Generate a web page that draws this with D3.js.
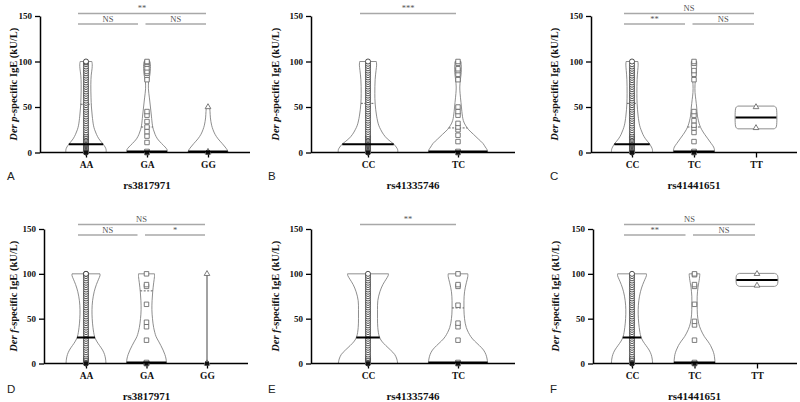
<!DOCTYPE html>
<html><head><meta charset="utf-8">
<script src="https://cdn.jsdelivr.net/npm/d3@7"></script>
<style>body{margin:0;background:#fff}</style>
</head><body><svg id="c" width="800" height="402"></svg>
<script>
// ---------- DATA ----------
const snpA = "rs3817971", snpB = "rs41335746", snpC = "rs41441651";
const catsA = ["AA","GA","GG"];
const catsB = ["CC","TC"];
const catsC = ["CC","TC","TT"];
const yTicks = [0,50,100,150];

// Der p specific IgE (kU/L) — individual points
const derpAA = [0,0,0.5,1,1.5,2,2.5,3,4,5,6,7,8,9,10,11,12,13.5,15,16.5,18,20,22,24.5,27,29.5,32,34.5,37,39.5,42,44.5,47,49.5,52,54.5,57,59.5,62,64.5,67,69.5,72,74.5,77,79.5,82,84.5,87,89.5,92,94.5,97,99,100];
const derpGA = [0,0,0.4,0.8,1.2,11,18,23,28,34,41,45,80,87,89,93,97,99,100];
const derpGG = [0,0.4,0.8,50];
const derpCC_b = [0,0,0.5,1,1.5,2,2.5,3,4,5,6,7,8,9,10,11,12,13.5,15,16.5,18,20,22.5,25,27.5,30,32.5,35,37.5,40,42.5,45,47.5,50,52.5,55,57.5,60,62.5,65,67.5,70,72.5,75,77.5,80,82.5,85,87.5,90,92.5,95,97.5,100];
const derpTC_b = [0,0,0.4,0.8,1.2,12,19,25,28,32,41,45,50,80,86,90,92,98,100];
const derpCC_c = [0,0,0.5,1,1.5,2,2.5,3,4,5,6,7,8,9,10,11,12,13.5,15,16.5,18,20,22,24.5,27,29.5,32,34.5,37,39.5,42,44.5,47,49.5,52,54.5,57,59.5,62,64.5,67,69.5,72,74.5,77,79.5,82,84.5,87,89.5,92,94.5,97,100];
const derpTC_c = [0,0,0.4,0.8,1.2,12,22,27,30,35,41,45,80,86,90,98,100];
const derpTT_c = [27,50];

// Der f specific IgE (kU/L) — individual points
const derfAA = [0,0,0.5,1,1.5,2,3,4,5,6,8,10,12.5,15,17.5,20,22.5,25,27.5,30,32.5,35,37.5,40,42.5,45,47.5,50,52.5,55,57.5,60,62.5,65,67.5,70,72.5,75,77.5,80,82.5,85,87.5,90,92.5,95,97.5,100,100];
const derfGA = [0,0,0.4,0.8,1.2,26,41,46,66,86,88,100];
const derfGG = [0,0.4,100];
const derfCC_e = [0,0,0.5,1,1.5,2,3,4,5,6,8,10,12.5,15,17.5,20,22.5,25,27.5,30,32.5,35,37.5,40,42.5,45,47.5,50,52.5,55,57.5,60,62.5,65,67.5,70,72.5,75,77.5,80,82.5,85,87.5,90,92.5,95,97.5,100];
const derfTC_e = [0,0,0.4,0.8,1.2,26,41,45,65,86,88,100];
const derfCC_f = [0,0,0.5,1,1.5,2,3,4,5,6,8,10,12.5,15,17.5,20,22.5,25,27.5,30,32.5,35,37.5,40,42.5,45,47.5,50,52.5,55,57.5,60,62.5,65,67.5,70,72.5,75,77.5,80,82.5,85,87.5,90,92.5,95,97.5,100];
const derfTC_f = [0,0,0.4,0.8,1.2,26,43,47,66,86,88,99,100];
const derfTT_f = [87,100];

// violin outlines: [value, relative half-width]
const violA_AA = [[0,1],[3,1],[6,0.95],[10,0.82],[15,0.64],[20,0.52],[25,0.43],[30,0.37],[40,0.31],[50,0.27],[60,0.25],[75,0.24],[85,0.26],[92,0.3],[97,0.31],[100,0.29]];
const violA_GA = [[0,1],[3,1],[6,0.9],[10,0.72],[15,0.52],[20,0.4],[25,0.32],[30,0.27],[40,0.22],[50,0.17],[60,0.12],[70,0.07],[78,0.08],[85,0.14],[92,0.17],[97,0.17],[100,0.15]];
const violA_GG = [[0,1],[3,0.95],[6,0.85],[10,0.7],[15,0.5],[20,0.35],[25,0.25],[30,0.18],[38,0.12],[45,0.1],[50,0.08]];
const violB_CC = [[0,1],[3,1],[6,0.95],[10,0.84],[15,0.65],[20,0.52],[25,0.43],[30,0.36],[40,0.29],[54,0.24],[65,0.23],[80,0.24],[90,0.27],[96,0.29],[100,0.28]];
const violB_TC = [[0,1],[3,0.98],[6,0.92],[10,0.84],[15,0.68],[20,0.52],[25,0.36],[30,0.25],[35,0.18],[45,0.13],[55,0.1],[65,0.07],[72,0.06],[80,0.08],[88,0.11],[95,0.11],[100,0.1]];
const violC_CC = [[0,1],[3,1],[6,0.95],[10,0.84],[15,0.66],[20,0.53],[25,0.44],[30,0.37],[40,0.3],[54,0.25],[65,0.24],[80,0.25],[90,0.28],[96,0.3],[100,0.29]];
const violC_TC = [[0,1],[3,1],[6,0.96],[10,0.84],[15,0.68],[20,0.52],[25,0.38],[30,0.28],[40,0.17],[50,0.13],[58,0.09],[66,0.05],[75,0.05],[85,0.09],[95,0.13],[100,0.13]];
const violC_TT = [[26,0.88],[27,0.96],[29,1],[48,1],[50,0.96],[51,0.88]];
const violD_AA = [[0,1],[5,0.98],[10,0.93],[15,0.83],[20,0.68],[25,0.53],[30,0.43],[40,0.35],[50,0.31],[60,0.3],[70,0.33],[80,0.41],[88,0.52],[94,0.63],[98,0.7],[100,0.7]];
const violD_GA = [[0,1],[5,0.98],[10,0.92],[15,0.83],[20,0.72],[25,0.6],[30,0.48],[40,0.36],[50,0.3],[60,0.27],[70,0.28],[80,0.31],[90,0.36],[97,0.4],[100,0.4]];
const violD_GG = [[0,0.01],[100,0.01]];
const violE_CC = [[0,1],[5,0.97],[10,0.9],[15,0.76],[20,0.6],[25,0.46],[30,0.38],[40,0.33],[50,0.32],[60,0.32],[70,0.33],[80,0.4],[88,0.5],[94,0.61],[98,0.68],[100,0.69]];
const violE_TC = [[0,1],[5,0.98],[10,0.94],[15,0.86],[20,0.72],[25,0.56],[30,0.43],[40,0.28],[50,0.22],[60,0.2],[70,0.2],[80,0.22],[90,0.28],[97,0.33],[100,0.33]];
const violF_CC = [[0,1],[5,0.98],[10,0.93],[15,0.83],[20,0.68],[25,0.53],[30,0.43],[40,0.35],[50,0.31],[60,0.3],[70,0.33],[80,0.41],[88,0.52],[94,0.63],[98,0.7],[100,0.7]];
const violF_TC = [[0,1],[5,0.98],[10,0.95],[15,0.88],[20,0.78],[25,0.64],[30,0.48],[38,0.3],[45,0.2],[55,0.14],[65,0.13],[75,0.13],[85,0.17],[95,0.24],[100,0.26]];
const violF_TT = [[86,0.85],[87,0.95],[89,1],[98,1],[99.5,0.95],[100.5,0.85]];

// medians and upper quartiles
const medA = [9,1,1],    q3A = [53,28,null];
const medB = [9,1],      q3B = [54,27];
const medC = [9,1,38.5], q3C = [54,28,null];
const medD = [29,1,null],q3D = [null,81,null];
const medE = [29,1],     q3E = [null,62];
const medF = [29,1,93],  q3F = [null,null,null];

// significance brackets [from, to, label, row]
const sigA = [[0,2,"**",0],[0,1,"NS",1],[1,2,"NS",1]];
const sigB = [[0,1,"***",0]];
const sigC = [[0,2,"NS",0],[0,1,"**",1],[1,2,"NS",1]];
const sigD = [[0,2,"NS",0],[0,1,"NS",1],[1,2,"*",1]];
const sigE = [[0,1,"**",0]];
const sigF = [[0,2,"NS",0],[0,1,"**",1],[1,2,"NS",1]];

// ---------- LAYOUT ----------
const rowTop = {y0:152.5, y150:16, bracketY:[13.5,24], letterY:180, titleY:189};
const rowBot = {y0:363.5, y150:229, bracketY:[224.5,235], letterY:393, titleY:400};

const panels = [
 {L:"A", snp:snpA, cats:catsA, al:"p", pts:[derpAA,derpGA,derpGG], viol:[violA_AA,violA_GA,violA_GG], med:medA, q3:q3A, sig:sigA, row:rowTop, ax:40, ex:250, cr:[86,208], lx:15, lt:7},
 {L:"B", snp:snpB, cats:catsB, al:"p", pts:[derpCC_b,derpTC_b], viol:[violB_CC,violB_TC], med:medB, q3:q3B, sig:sigB, row:rowTop, ax:311, ex:515, cr:[368,458], lx:277, lt:268},
 {L:"C", snp:snpC, cats:catsC, al:"p", pts:[derpCC_c,derpTC_c,derpTT_c], viol:[violC_CC,violC_TC,violC_TT], med:medC, q3:q3C, sig:sigC, row:rowTop, ax:591, ex:797, cr:[632,756], lx:556, lt:550},
 {L:"D", snp:snpA, cats:catsA, al:"f", pts:[derfAA,derfGA,derfGG], viol:[violD_AA,violD_GA,violD_GG], med:medD, q3:q3D, sig:sigD, row:rowBot, ax:44, ex:248, cr:[86,207], lx:15, lt:7},
 {L:"E", snp:snpB, cats:catsB, al:"f", pts:[derfCC_e,derfTC_e], viol:[violE_CC,violE_TC], med:medE, q3:q3E, sig:sigE, row:rowBot, ax:311, ex:515, cr:[368,458], lx:277, lt:268},
 {L:"F", snp:snpC, cats:catsC, al:"f", pts:[derfCC_f,derfTC_f,derfTT_f], viol:[violF_CC,violF_TC,violF_TT], med:medF, q3:q3F, sig:sigF, row:rowBot, ax:593, ex:797, cr:[632,757], lx:557, lt:550}
];

const svg = d3.select("#c");
const serif = "'Liberation Serif','Times New Roman',serif";
const sans = "'Liberation Sans',Arial,sans-serif";

panels.forEach(p => {
  const g = svg.append("g");
  const R = p.row;
  const y = d3.scaleLinear().domain([0,150]).range([R.y0, R.y150]);
  const x = d3.scalePoint().domain(p.cats).range(p.cr);
  const step = (p.cr[1]-p.cr[0])/(p.cats.length-1);
  const hw = 0.33*step;

  // violins
  p.cats.forEach((c,i) => {
    const cx = x(c), prof = p.viol[i];
    const area = d3.area().curve(d3.curveCatmullRom)
      .y(d => y(d[0])).x0(d => cx - hw*d[1]).x1(d => cx + hw*d[1]);
    g.append("path").attr("d", area(prof))
      .attr("fill","#fff").attr("stroke","#7a7a7a").attr("stroke-width",0.85);
  });

  // y axis
  const ya = g.append("g").attr("transform",`translate(${p.ax},0)`)
    .call(d3.axisLeft(y).tickValues(yTicks).tickSize(5).tickSizeOuter(0).tickPadding(3));
  ya.select(".domain").attr("stroke","#000").attr("stroke-width",1.5);
  ya.selectAll(".tick line").attr("stroke","#000").attr("stroke-width",1.3);
  ya.selectAll("text").attr("font-family",serif).attr("font-weight","bold").attr("font-size",9).attr("fill","#111");

  // x axis
  const xa = g.append("g").attr("transform",`translate(0,${R.y0})`)
    .call(d3.axisBottom(x).tickSize(5).tickSizeOuter(0).tickPadding(4));
  xa.select(".domain").remove();
  xa.selectAll(".tick line").attr("stroke","#000").attr("stroke-width",1.3);
  xa.selectAll("text").attr("font-family",serif).attr("font-weight","bold").attr("font-size",9.5).attr("fill","#111");
  g.append("line").attr("x1",p.ax).attr("x2",p.ex).attr("y1",R.y0).attr("y2",R.y0)
    .attr("stroke","#000").attr("stroke-width",1.5);

  // quartile dashed lines
  p.cats.forEach((c,i) => {
    const v = p.q3[i]; if (v == null) return;
    const prof = p.viol[i];
    const wf = d3.scaleLinear().domain(prof.map(d=>d[0])).range(prof.map(d=>d[1])).clamp(true);
    g.append("line").attr("x1",x(c)-hw*wf(v)).attr("x2",x(c)+hw*wf(v))
      .attr("y1",y(v)).attr("y2",y(v)).attr("stroke","#555").attr("stroke-width",0.9)
      .attr("stroke-dasharray","2,1.5");
  });

  // points
  p.cats.forEach((c,i) => {
    const cx = x(c);
    const sel = g.append("g").selectAll("path").data(p.pts[i]).join("path")
      .attr("transform", d => `translate(${cx},${y(d)})`)
      .attr("fill","#fff").attr("stroke-width",0.85);
    if (i===0) sel.attr("d", d3.symbol(d3.symbolCircle, 20)()).attr("stroke","#333");
    else if (i===1) sel.attr("d", d3.symbol(d3.symbolSquare, 20)()).attr("stroke","#666");
    else sel.attr("d", d3.symbol(d3.symbolTriangle, 14)()).attr("stroke","#666");
    const zeros = p.pts[i].filter(v => v < 1.5);
    if (zeros.length) {
      g.append("path").attr("d", d3.symbol(d3.symbolSquare, 16)())
        .attr("transform",`translate(${cx},${y(0)})`).attr("fill","#111");
    }
  });

  // medians
  p.cats.forEach((c,i) => {
    const v = p.med[i]; if (v == null) return;
    const prof = p.viol[i];
    const wf = d3.scaleLinear().domain(prof.map(d=>d[0])).range(prof.map(d=>d[1])).clamp(true);
    g.append("line").attr("x1",x(c)-hw*wf(v)).attr("x2",x(c)+hw*wf(v))
      .attr("y1",y(v)).attr("y2",y(v)).attr("stroke","#000").attr("stroke-width",2);
  });

  // significance brackets
  const last = p.cats.length-1;
  p.sig.forEach(s => {
    const [a,b,lab,row] = s;
    const x1 = a===0 ? x(p.cats[a])-8 : x(p.cats[a])-1.5;
    const x2 = b===last ? x(p.cats[b])-2 : x(p.cats[b])-9;
    const ly = R.bracketY[row];
    g.append("line").attr("x1",x1).attr("x2",x2).attr("y1",ly).attr("y2",ly)
      .attr("stroke","#a8a8a8").attr("stroke-width",1.4);
    g.append("text").attr("x",(x1+x2)/2).attr("y",ly-2.2).attr("text-anchor","middle")
      .attr("font-family",serif).attr("font-size",8.5).attr("fill","#555").text(lab);
  });

  // y label
  const ymid = (R.y0+R.y150)/2;
  const t = g.append("text").attr("transform",`translate(${p.lx},${ymid}) rotate(-90)`)
    .attr("text-anchor","middle").attr("dominant-baseline","middle")
    .attr("font-family",serif).attr("font-weight","bold").attr("font-size",10.5).attr("fill","#111");
  t.append("tspan").attr("font-style","italic").text("Der " + p.al);
  t.append("tspan").text("-specific IgE (kU/L)");

  // SNP title
  g.append("text").attr("x", (p.cr[0]+p.cr[1])/2).attr("y", R.titleY).attr("text-anchor","middle")
    .attr("font-family",serif).attr("font-weight","bold").attr("font-size",11).attr("fill","#111").text(p.snp);

  // panel letter
  g.append("text").attr("x",p.lt).attr("y",R.letterY).attr("font-family",sans)
    .attr("font-size",11.5).attr("fill","#222").text(p.L);
});
</script></body></html>
